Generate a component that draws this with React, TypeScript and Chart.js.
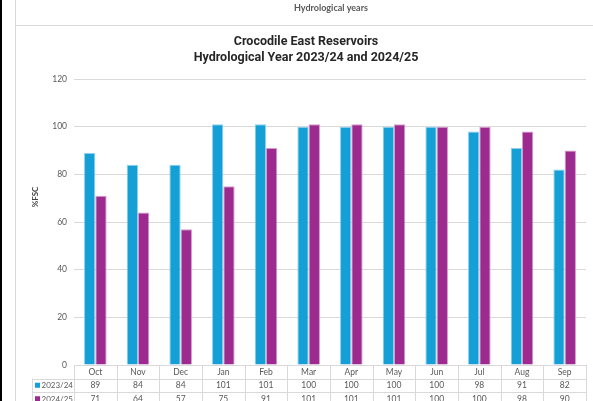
import React, { useEffect, useRef } from "react";
import { Chart, registerables } from "chart.js";

Chart.register(...registerables);

const months = ["Oct", "Nov", "Dec", "Jan", "Feb", "Mar", "Apr", "May", "Jun", "Jul", "Aug", "Sep"];
const year2324 = [89, 84, 84, 101, 101, 100, 100, 100, 100, 98, 91, 82];
const year2425 = [71, 64, 57, 75, 91, 101, 101, 101, 100, 100, 98, 90];
const seriesNames = ["2023/24", "2024/25"];
const seriesColors = ["#149fd7", "#9d2a8f"];
const seriesBorders = ["#8fd0ee", "#d49ccb"];

const W = 593;
const H = 401;
const GRID = "#d9d9d9";
const TEXT = "#595959";
const FONT = "Lato, 'Open Sans', sans-serif";

const decorPlugin = {
  id: "decor",
  beforeDraw(chart: any) {
    const ctx = chart.ctx as CanvasRenderingContext2D;
    const area = chart.chartArea;
    ctx.save();
    ctx.fillStyle = "#ffffff";
    ctx.fillRect(0, 0, W, H);
    // dark strip at the left edge
    ctx.fillStyle = "#000000";
    ctx.fillRect(0, 0, 2, H);
    // page frame lines
    ctx.strokeStyle = GRID;
    ctx.lineWidth = 1;
    ctx.beginPath();
    ctx.moveTo(15.5, 0);
    ctx.lineTo(15.5, H);
    ctx.moveTo(15, 25.5);
    ctx.lineTo(W, 25.5);
    ctx.stroke();
    // page header
    ctx.fillStyle = TEXT;
    ctx.textAlign = "center";
    ctx.textBaseline = "middle";
    ctx.font = `bold 9px ${FONT}`;
    ctx.fillText("Hydrological years", 331, 8);
    // chart title
    ctx.fillStyle = "#262626";
    ctx.font = "bold 12.5px Roboto, sans-serif";
    ctx.fillText("Crocodile East Reservoirs", 306, 42);
    ctx.fillText("Hydrological Year 2023/24 and 2024/25", 306, 58);
    // y axis title
    ctx.translate(35, 197);
    ctx.rotate(-Math.PI / 2);
    ctx.fillStyle = "#404040";
    ctx.font = `bold 8px ${FONT}`;
    ctx.fillText("%FSC", 0, 0);
    ctx.restore();
  },
  afterDraw(chart: any) {
    const ctx = chart.ctx as CanvasRenderingContext2D;
    const area = chart.chartArea;
    const xs = chart.scales.x;
    const n = months.length;
    const cw = (area.right - area.left) / n;
    const rowH = 13.5;
    const top = area.bottom;
    const r1 = top + rowH;
    const r2 = r1 + rowH;
    const r3 = r2 + rowH;
    const headLeft = 32;
    ctx.save();
    ctx.strokeStyle = GRID;
    ctx.lineWidth = 1;
    ctx.beginPath();
    // horizontal rules
    ctx.moveTo(area.left, Math.round(top) + 0.5);
    ctx.lineTo(area.right, Math.round(top) + 0.5);
    [r1, r2, r3].forEach((y) => {
      ctx.moveTo(headLeft, Math.round(y) + 0.5);
      ctx.lineTo(area.right, Math.round(y) + 0.5);
    });
    // vertical rules
    for (let i = 0; i <= n; i++) {
      const x = Math.round(area.left + i * cw) + 0.5;
      ctx.moveTo(x, top);
      ctx.lineTo(x, r3);
    }
    ctx.moveTo(headLeft + 0.5, r1);
    ctx.lineTo(headLeft + 0.5, r3);
    ctx.stroke();

    ctx.fillStyle = TEXT;
    ctx.font = `8.5px ${FONT}`;
    ctx.textAlign = "center";
    ctx.textBaseline = "middle";
    months.forEach((m, i) => {
      const cx = xs.getPixelForValue(i);
      ctx.fillText(m, cx, (top + r1) / 2 + 0.5);
      ctx.fillText(String(year2324[i]), cx, (r1 + r2) / 2 + 0.5);
      ctx.fillText(String(year2425[i]), cx, (r2 + r3) / 2 + 0.5);
    });
    // series keys
    ctx.textAlign = "left";
    ctx.font = `8px ${FONT}`;
    [r1, r2].forEach((y, k) => {
      const cy = y + rowH / 2;
      ctx.fillStyle = seriesColors[k];
      ctx.fillRect(35, cy - 2.5, 5, 5);
      ctx.fillStyle = TEXT;
      ctx.fillText(seriesNames[k], 41.5, cy + 0.5);
    });
    ctx.restore();
  },
};

export default function App() {
  const ref = useRef<HTMLCanvasElement | null>(null);

  useEffect(() => {
    if (!ref.current) return;
    const chart = new Chart(ref.current, {
      type: "bar",
      data: {
        labels: months,
        datasets: [
          {
            label: seriesNames[0],
            data: year2324,
            backgroundColor: seriesColors[0],
            borderColor: seriesBorders[0],
            borderWidth: 1,
            categoryPercentage: 0.53,
            barPercentage: 1,
          },
          {
            label: seriesNames[1],
            data: year2425,
            backgroundColor: seriesColors[1],
            borderColor: seriesBorders[1],
            borderWidth: 1,
            categoryPercentage: 0.53,
            barPercentage: 1,
          },
        ],
      },
      options: {
        responsive: false,
        animation: false,
        devicePixelRatio: 1,
        layout: { padding: { left: 15, right: 7, top: 79, bottom: 36 } },
        plugins: {
          legend: { display: false },
          title: { display: false },
          tooltip: { enabled: false },
        },
        scales: {
          x: {
            ticks: { display: false },
            grid: { display: false },
            border: { display: false },
            afterFit(scale: any) {
              scale.height = 0;
            },
          },
          y: {
            min: 0,
            max: 120,
            ticks: {
              stepSize: 20,
              padding: 7,
              color: TEXT,
              font: { family: FONT, size: 8.5 },
            },
            grid: { color: GRID, drawTicks: false },
            border: { display: false },
            afterFit(scale: any) {
              scale.width = 59;
            },
          },
        },
      },
      plugins: [decorPlugin],
    });
    return () => chart.destroy();
  }, []);

  return (
    <div style={{ position: "fixed", left: 0, top: 0, width: W, height: H, background: "#fff" }}>
      <canvas ref={ref} width={W} height={H} style={{ display: "block", width: W, height: H }} />
    </div>
  );
}
